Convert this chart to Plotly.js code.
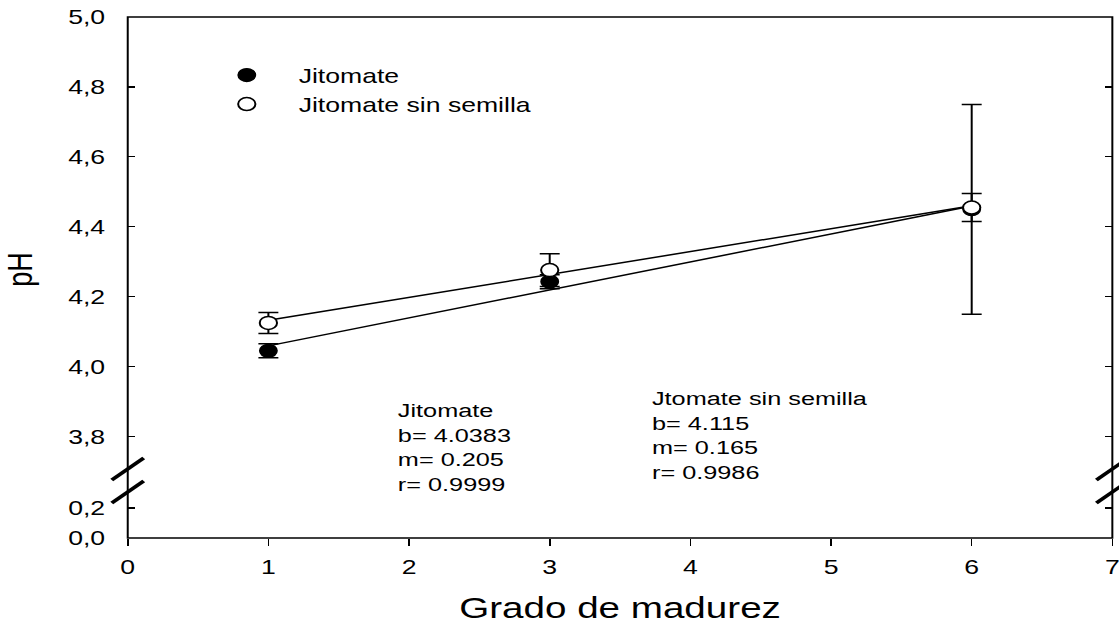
<!DOCTYPE html>
<html>
<head>
<meta charset="utf-8">
<script src="https://cdn.plot.ly/plotly-3.0.1.min.js"></script>
<style>
  html, body { margin: 0; padding: 0; background: #fff; overflow: hidden; }
  #wrap { width: 1119px; height: 624px; overflow: hidden; }
  /* the figure is laid out narrow and widened horizontally */
  #chart { width: 841px; height: 624px; transform: scaleX(1.33056); transform-origin: 0 0; }
</style>
</head>
<body>
<div id="wrap"><div id="chart"></div></div>
<script>
// Grado de madurez (x) and measured pH with error
const grado = [1, 3, 6];
const phJitomate = [4.045, 4.243, 4.45];
const errJitomate = [0.02, 0.02, 0.3];
const phSinSemilla = [4.125, 4.276, 4.455];
const errSinSemilla = [0.03, 0.047, 0.04];

const xTicks = [0, 1, 2, 3, 4, 5, 6, 7];
const yTicksUpper = [3.8, 4.0, 4.2, 4.4, 4.6, 4.8, 5.0];
const yTicksLower = [0.0, 0.2];

const statsJitomate = ['Jitomate', 'b= 4.0383', 'm= 0.205', 'r= 0.9999'];
const statsSinSemilla = ['Jtomate sin semilla', 'b= 4.115', 'm= 0.165', 'r= 0.9986'];

// least-squares line through the points
function fitLine(xs, ys) {
  const n = xs.length;
  const mx = xs.reduce((a, b) => a + b, 0) / n;
  const my = ys.reduce((a, b) => a + b, 0) / n;
  let sxy = 0, sxx = 0;
  for (let i = 0; i < n; i++) {
    sxy += (xs[i] - mx) * (ys[i] - my);
    sxx += (xs[i] - mx) * (xs[i] - mx);
  }
  const m = sxy / sxx;
  const b = my - m * mx;
  const x0 = Math.min(...xs), x1 = Math.max(...xs);
  return { x: [x0, x1], y: [b + m * x0, b + m * x1] };
}

const fitJ = fitLine(grado, phJitomate);
const fitS = fitLine(grado, phSinSemilla);

const FONT = 'Liberation Sans, Arial, sans-serif';

const traces = [
  // empty trace so the lower (broken) axis segment is laid out
  { x: [null], y: [null], xaxis: 'x', yaxis: 'y2', mode: 'markers',
    showlegend: false, hoverinfo: 'skip' },
  { x: fitJ.x, y: fitJ.y, mode: 'lines', line: { color: '#000', width: 1.5 },
    showlegend: false, hoverinfo: 'skip' },
  { x: fitS.x, y: fitS.y, mode: 'lines', line: { color: '#000', width: 1.5 },
    showlegend: false, hoverinfo: 'skip' },
  { x: grado, y: phJitomate, name: 'Jitomate', mode: 'markers',
    marker: { symbol: 'circle', size: 13, color: '#000', line: { color: '#000', width: 1.2 } },
    error_y: { type: 'data', array: errJitomate, visible: true, color: '#000', thickness: 1.5, width: 7.5 } },
  { x: grado, y: phSinSemilla, name: 'Jitomate sin semilla', mode: 'markers',
    marker: { symbol: 'circle', size: 13, color: '#fff', line: { color: '#000', width: 1.5 } },
    error_y: { type: 'data', array: errSinSemilla, visible: true, color: '#000', thickness: 1.5, width: 7.5 } }
];

// break marks on both vertical axes
const breakShapes = [];
[0, 1].forEach(px => {
  [0.1324, 0.0883].forEach(py => {
    breakShapes.push({
      type: 'line', xref: 'paper', yref: 'paper',
      xsizemode: 'pixel', ysizemode: 'pixel',
      xanchor: px, yanchor: py,
      x0: -12, x1: 12, y0: -11, y1: 11,
      line: { color: '#000', width: 3.2 }
    });
  });
});

const layout = {
  width: 841, height: 624,
  margin: { l: 96, r: 5, t: 17, b: 86 },
  paper_bgcolor: '#fff', plot_bgcolor: '#fff',
  separators: ',.',
  font: { family: FONT, size: 20, color: '#000' },
  showlegend: true,
  legend: {
    x: 0.0682, y: 0.926, xanchor: 'left', yanchor: 'top',
    bgcolor: 'rgba(0,0,0,0)', font: { family: FONT, size: 20, color: '#000' },
    itemwidth: 68
  },
  xaxis: {
    domain: [0, 1], anchor: 'y2', range: [0, 7],
    tickvals: xTicks, tickformat: 'd',
    ticks: 'outside', ticklen: 7, tickwidth: 1.2, tickcolor: '#000',
    ticklabelstandoff: 4, ticklabeloverflow: 'allow',
    showline: false, showgrid: false, zeroline: false,
    tickfont: { family: FONT, size: 20, color: '#000' },
    title: { text: 'Grado de madurez', font: { family: FONT, size: 29, color: '#000' }, standoff: 27 }
  },
  yaxis: {
    domain: [0.1324, 1], anchor: 'x', range: [3.707, 5.0],
    tickvals: yTicksUpper, tickformat: '.1f',
    ticks: 'inside', ticklen: 5.5, tickwidth: 1.2, tickcolor: '#000', mirror: 'ticks',
    ticklabelstandoff: 16,
    showline: false, showgrid: false, zeroline: false,
    tickfont: { family: FONT, size: 20, color: '#000' }
  },
  yaxis2: {
    domain: [0, 0.0883], anchor: 'x', range: [0, 0.307],
    tickvals: yTicksLower, tickformat: '.1f',
    ticks: 'inside', ticklen: 5.5, tickwidth: 1.2, tickcolor: '#000', mirror: 'ticks',
    ticklabelstandoff: 16,
    showline: false, showgrid: false, zeroline: false,
    tickfont: { family: FONT, size: 20, color: '#000' }
  },
  shapes: [
    { type: 'rect', xref: 'paper', yref: 'paper', x0: 0, x1: 1, y0: 0, y1: 1,
      line: { color: '#000', width: 1.5 }, fillcolor: 'rgba(0,0,0,0)' }
  ].concat(breakShapes),
  annotations: [
    { text: 'pH', xref: 'paper', yref: 'paper', x: 0, y: 0.515, xanchor: 'center', yanchor: 'middle',
      xshift: -81, textangle: -90, showarrow: false, font: { family: FONT, size: 27, color: '#000' } },
    { text: statsJitomate.join('<br>'), xref: 'paper', yref: 'paper', x: 0.2722, y: 0.2687,
      xanchor: 'left', yanchor: 'top', align: 'left', showarrow: false,
      font: { family: FONT, size: 19, color: '#000' } },
    { text: statsSinSemilla.join('<br>'), xref: 'paper', yref: 'paper', x: 0.5295, y: 0.2917,
      xanchor: 'left', yanchor: 'top', align: 'left', showarrow: false,
      font: { family: FONT, size: 19, color: '#000' } }
  ]
};

Plotly.newPlot('chart', traces, layout, { staticPlot: true, displayModeBar: false });
</script>
</body>
</html>
